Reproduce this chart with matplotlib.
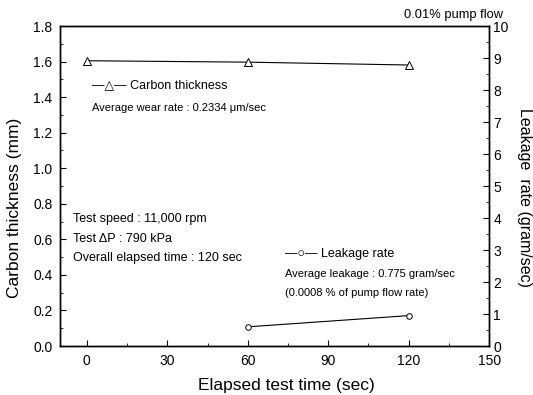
import matplotlib
matplotlib.use('Agg')
import matplotlib.pyplot as plt
from matplotlib.ticker import MultipleLocator

plt.rcParams['font.family'] = ['Liberation Sans', 'DejaVu Sans']

# data
time_carbon = [0, 60, 120]
carbon_mm = [1.605, 1.597, 1.581]
time_leak = [60, 120]
leak_rate = [0.6, 0.95]

fig = plt.figure(figsize=(5.33, 3.95), dpi=100)
ax = fig.add_axes([0.1126, 0.124, 0.805, 0.81])
ax2 = ax.twinx()

ax.plot(time_carbon, carbon_mm, '-', color='black', lw=0.8, marker='^',
        mfc='white', mec='black', ms=5.5, mew=0.7)
ax2.plot(time_leak, leak_rate, '-', color='black', lw=0.8, marker='o',
         mfc='white', mec='black', ms=4, mew=0.7)

ax.set_xlim(-10, 150)
ax.set_ylim(0, 1.8)
ax2.set_ylim(0, 10)
ax.set_xticks([0, 30, 60, 90, 120, 150])
ax.xaxis.set_minor_locator(MultipleLocator(15))
ax.yaxis.set_major_locator(MultipleLocator(0.2))
ax.yaxis.set_minor_locator(MultipleLocator(0.1))
ax.yaxis.set_major_formatter(matplotlib.ticker.FormatStrFormatter('%.1f'))
ax2.yaxis.set_major_locator(MultipleLocator(1))
ax2.yaxis.set_minor_locator(MultipleLocator(0.5))

for a in (ax, ax2):
    a.tick_params(which='major', direction='in', length=4, width=0.8, labelsize=10)
    a.tick_params(which='minor', direction='in', length=2.5, width=0.6)
    for s in a.spines.values():
        s.set_linewidth(1.0)
ax.tick_params(axis='x', which='both', top=False, pad=5.5)
ax.tick_params(axis='y', which='both', right=False, pad=5.5)
ax2.tick_params(axis='y', pad=3)

ax.set_xlabel('Elapsed test time (sec)', fontsize=12.5)
ax.set_ylabel('Carbon thickness (mm)', fontsize=12.5)
ax2.set_ylabel('Leakage  rate (gram/sec)', fontsize=11.5, rotation=270)
ax.xaxis.set_label_coords(0.527, -0.1)
ax.yaxis.set_label_coords(-0.088, 0.433)
ax2.yaxis.set_label_coords(1.1, 0.464)

fig.text(0.944, 0.962, '0.01% pump flow', fontsize=9.3, ha='right', va='center')

ax.text(2, 1.468, u'\u2014\u25b3\u2014 Carbon thickness', fontsize=9, va='center')
ax.text(2, 1.34, u'Average wear rate : 0.2334 \u03bcm/sec', fontsize=8, va='center')

ax.text(-5, 0.714, 'Test speed : 11,000 rpm', fontsize=9, va='center')
ax.text(-5, 0.602, u'Test \u0394P : 790 kPa', fontsize=9, va='center')
ax.text(-5, 0.495, 'Overall elapsed time : 120 sec', fontsize=9, va='center')

ax.text(74, 0.517, u'\u2014\u25cb\u2014 Leakage rate', fontsize=9, va='center')
ax.text(74, 0.405, 'Average leakage : 0.775 gram/sec', fontsize=8, va='center')
ax.text(74, 0.30, '(0.0008 % of pump flow rate)', fontsize=8, va='center')

fig.savefig('out.png', dpi=100)
